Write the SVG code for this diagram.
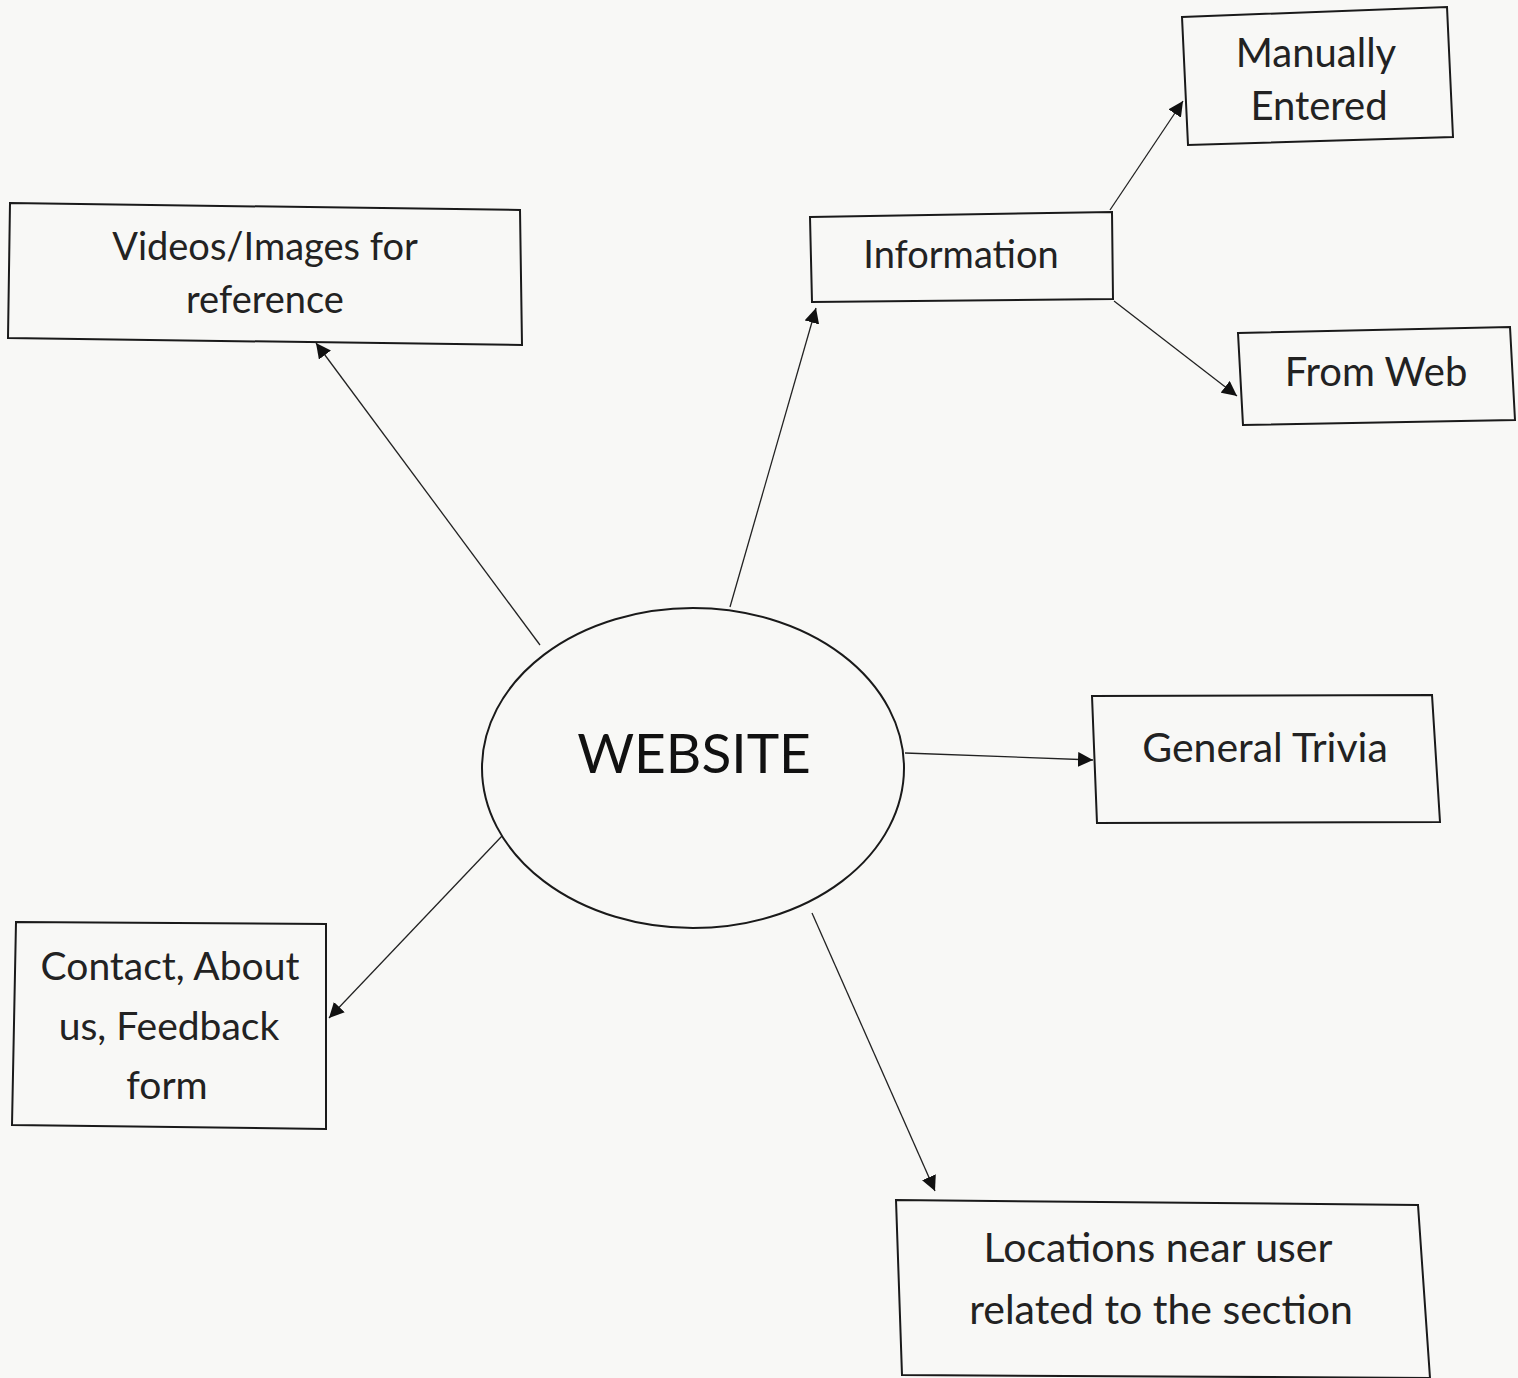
<svg xmlns="http://www.w3.org/2000/svg" width="1518" height="1378" viewBox="0 0 1518 1378">
<defs>
<style>
.box{fill:none;stroke:#1a1a1a;stroke-width:2}
.lbl{font-family:Lato,"Open Sans",sans-serif;font-size:38px;fill:#222;text-anchor:middle}
.con{stroke:#222;stroke-width:1.3;fill:none;marker-end:url(#ah)}
</style>
<marker id="ah" viewBox="0 0 10 10" refX="10" refY="5" markerWidth="15" markerHeight="15" markerUnits="userSpaceOnUse" orient="auto"><path d="M0,0 L10,5 L0,10 z" fill="#111"/></marker>
</defs>
<rect width="1518" height="1378" fill="#f8f8f6"/>
<g id="connectors">
<line class="con" x1="540" y1="645" x2="316" y2="343"/>
<line class="con" x1="730" y1="607" x2="816" y2="308"/>
<line class="con" x1="1110" y1="210" x2="1183" y2="101"/>
<line class="con" x1="1114" y1="301" x2="1237" y2="396"/>
<line class="con" x1="905" y1="753" x2="1093" y2="760"/>
<line class="con" x1="502" y1="836" x2="329" y2="1018"/>
<line class="con" x1="812" y1="913" x2="935" y2="1191"/>
</g>
<g id="website">
<ellipse cx="693" cy="768" rx="211" ry="160" fill="none" stroke="#1a1a1a" stroke-width="2"/>
<text x="694" y="773" font-family="Lato,'Open Sans',sans-serif" font-size="55" fill="#111" text-anchor="middle">WEBSITE</text>
</g>
<g id="videos">
<polygon class="box" points="10,203 520,210 522,345 8,338"/>
<text class="lbl" x="265" y="260" font-size="38">Videos/Images for</text>
<text class="lbl" x="265" y="313" font-size="38">reference</text>
</g>
<g id="information">
<polygon class="box" points="810,217 1112,212 1113,299 812,302"/>
<text class="lbl" x="961" y="268" style="font-size:38px">Information</text>
</g>
<g id="manually">
<polygon class="box" points="1182,17 1447,7 1453,137 1188,145"/>
<text class="lbl" x="1316" y="67" style="font-size:40px">Manually</text>
<text class="lbl" x="1319" y="120" style="font-size:40px">Entered</text>
</g>
<g id="fromweb">
<polygon class="box" points="1238,333 1510,327 1515,420 1243,425"/>
<text class="lbl" x="1376" y="386" style="font-size:40px">From Web</text>
</g>
<g id="trivia">
<polygon class="box" points="1092,696 1432,695 1440,822 1097,823"/>
<text class="lbl" x="1265" y="762" style="font-size:41px">General Trivia</text>
</g>
<g id="contact">
<polygon class="box" points="16,922 326,924 326,1129 12,1125"/>
<text class="lbl" x="170" y="980" style="font-size:39px">Contact, About</text>
<text class="lbl" x="169" y="1040" style="font-size:39px">us, Feedback</text>
<text class="lbl" x="167" y="1099" style="font-size:39px">form</text>
</g>
<g id="locations">
<polygon class="box" points="896,1200 1418,1205 1430,1378 902,1375"/>
<text class="lbl" x="1158" y="1262" style="font-size:41px">Locations near user</text>
<text class="lbl" x="1161" y="1324" style="font-size:41px">related to the section</text>
</g>
</svg>
